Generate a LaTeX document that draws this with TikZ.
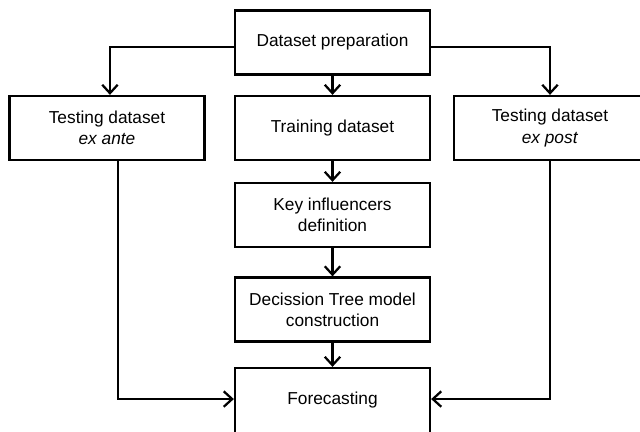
\documentclass[tikz,border=0pt]{standalone}
\usepackage{fontspec}
\setmainfont{Liberation Sans}
\usetikzlibrary{arrows.meta}

\tikzset{
  stagebox/.style={draw, line width=1.6pt, minimum width=4.875cm, minimum height=1.6cm,
    align=center, inner sep=0pt, font=\fontsize{12.3}{15}\selectfont},
  flow/.style={line width=1.8pt, -{Straight Barb[length=6pt,width=11pt,line width=1.6pt]}}
}

\begin{document}
\begin{tikzpicture}[x=0.025cm, y=-0.025cm]
		\useasboundingbox (0, 0) rectangle (640, 432);

		\node[stagebox] (prep) at (332.5, 42.5) {Dataset preparation};

		\node[stagebox] (exante) at (107, 128) {Testing dataset\\\textit{ex ante}};
		\node[stagebox] (train) at (332.5, 128) {Training dataset};
		\node[stagebox, minimum width=4.8cm] (expost) at (550, 128) {Testing dataset\\\textit{ex post}};

		\node[stagebox] (key) at (332.5, 215) {Key influencers\\definition};
		\node[stagebox] (tree) at (332.5, 309.5) {Decission Tree model\\construction};
		\node[stagebox, minimum height=1.7cm] (fore) at (332.5, 402) {};
		\node (foretext) at (332.5, 400) {\fontsize{12.3}{15}\selectfont Forecasting};

		% from the preparation step
		\draw[flow] ([yshift=-3.2pt]prep.west) -| ([xshift=2.1pt]exante.north);
		\draw[flow] ([yshift=-3.2pt]prep.east) -| (expost.north);
		\draw[flow] (prep.south) -- (train.north);

		% training chain
		\draw[flow] (train.south) -- (key.north);
		\draw[flow] (key.south) -- (tree.north);
		\draw[flow] (tree.south) -- (fore.north);

		% testing sets into forecasting
		\draw[flow] ([xshift=7.8pt]exante.south) |- ([yshift=2.1pt]fore.west);
		\draw[flow] (expost.south) |- ([yshift=2.1pt]fore.east);
	\end{tikzpicture}
\end{document}
